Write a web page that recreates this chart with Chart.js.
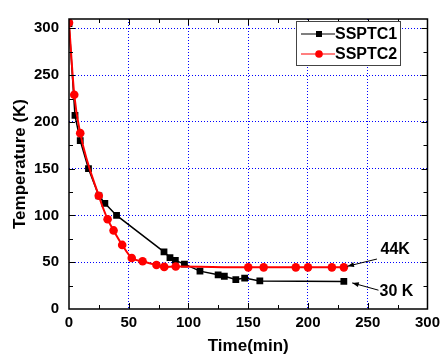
<!DOCTYPE html>
<html>
<head>
<meta charset="utf-8">
<script src="https://cdn.jsdelivr.net/npm/chart.js@4"></script>
<style>
  html, body { margin: 0; padding: 0; background: #fff; }
  #wrap { width: 445px; height: 363px; }
</style>
</head>
<body>
<div id="wrap"><canvas id="chart1" width="445" height="363"></canvas></div>
<script>
let timeSSPTC1 = [0, 5, 9.4, 16.3, 25, 30, 39.8, 79.5, 84.5, 89, 96.6, 109.6, 124.8, 130, 139.6, 147, 159.7, 230]
let tempSSPTC1 = [305, 207, 180, 150, 121, 113, 100, 61, 55, 52, 48, 40.5, 36.5, 35, 31.5, 33, 30, 29.5]
let timeSSPTC2 = [0, 4.4, 9.4, 24.9, 32.3, 37.3, 44.5, 52.5, 61.6, 73.2, 79.7, 89.3, 150, 162.9, 189.8, 200, 220, 230]
let tempSSPTC2 = [306, 229, 188, 121, 96, 84, 68.5, 54.5, 51, 47, 45, 45.5, 44.5, 44.5, 44.5, 44.5, 44.5, 44.5]
let xTicks = [0, 50, 100, 150, 200, 250, 300]
let yTicks = [0, 50, 100, 150, 200, 250, 300]
let notes = [
    {text: "44K", at: [273, 63], from: [257.7, 53.4], to: [233, 45.7]},
    {text: "30 K", at: [274, 18.5], from: [259, 20.1], to: [237, 27.9]}
]

function pairs(xs, ys) {
    return xs.map((x, i) => ({x: x, y: ys[i]}))
}

const boldFont = (size) => ({family: "'Liberation Sans', Arial, sans-serif", size: size, weight: "bold"})

// frame, inward ticks, legend box and arrow notes
const decorations = {
    id: "decorations",
    afterDatasetsDraw(chart) {
        const ctx = chart.ctx
        const a = chart.chartArea
        const sx = chart.scales.x
        const sy = chart.scales.y
        ctx.save()
        ctx.strokeStyle = "#000"
        ctx.lineWidth = 1
        ctx.beginPath()
        for (let v = 25; v < 300; v += 25) {
            const len = v % 50 == 0 ? 6 : 4
            const px = Math.round(sx.getPixelForValue(v)) + 0.5
            ctx.moveTo(px, a.bottom); ctx.lineTo(px, a.bottom - len)
            ctx.moveTo(px, a.top); ctx.lineTo(px, a.top + len)
        }
        for (let v = 25; v <= 300; v += 25) {
            const len = v % 50 == 0 ? 6 : 4
            const py = Math.round(sy.getPixelForValue(v)) + 0.5
            ctx.moveTo(a.left, py); ctx.lineTo(a.left + len, py)
            ctx.moveTo(a.right, py); ctx.lineTo(a.right - len, py)
        }
        ctx.stroke()
        ctx.lineWidth = 1.5
        ctx.strokeRect(a.left, a.top, a.right - a.left, a.bottom - a.top)

        // notes with arrows
        ctx.font = "bold 16px 'Liberation Sans', Arial, sans-serif"
        ctx.fillStyle = "#000"
        ctx.textAlign = "center"
        ctx.textBaseline = "middle"
        notes.forEach((n) => {
            ctx.fillText(n.text, sx.getPixelForValue(n.at[0]), sy.getPixelForValue(n.at[1]))
            const x1 = sx.getPixelForValue(n.from[0]), y1 = sy.getPixelForValue(n.from[1])
            const x2 = sx.getPixelForValue(n.to[0]), y2 = sy.getPixelForValue(n.to[1])
            ctx.lineWidth = 1
            ctx.beginPath(); ctx.moveTo(x1, y1); ctx.lineTo(x2, y2); ctx.stroke()
            const ang = Math.atan2(y2 - y1, x2 - x1)
            ctx.beginPath()
            ctx.moveTo(x2, y2)
            ctx.lineTo(x2 - 7 * Math.cos(ang - 0.35), y2 - 7 * Math.sin(ang - 0.35))
            ctx.lineTo(x2 - 7 * Math.cos(ang + 0.35), y2 - 7 * Math.sin(ang + 0.35))
            ctx.closePath(); ctx.fill()
        })

        // legend
        const lx = 296, ly = 21, lw = 104, lh = 44
        ctx.fillStyle = "#fff"
        ctx.fillRect(lx, ly, lw, lh)
        ctx.strokeStyle = "#444"
        ctx.lineWidth = 1
        ctx.strokeRect(lx + 0.5, ly + 0.5, lw, lh)
        chart.data.datasets.forEach((ds, i) => {
            const yy = ly + 13 + i * 20
            ctx.strokeStyle = ds.borderColor
            ctx.lineWidth = 1.2
            ctx.beginPath(); ctx.moveTo(lx + 5, yy); ctx.lineTo(lx + 39, yy); ctx.stroke()
            ctx.fillStyle = ds.pointBackgroundColor
            if (ds.pointStyle == "rect") {
                ctx.fillRect(lx + 20, yy - 3, 6, 6)
            } else {
                ctx.beginPath(); ctx.arc(lx + 23, yy, 3.8, 0, Math.PI * 2); ctx.fill()
            }
            ctx.fillStyle = "#000"
            ctx.textAlign = "left"
            ctx.font = "bold 16px 'Liberation Sans', Arial, sans-serif"
            ctx.fillText(ds.label, lx + 39, yy + 1)
        })
        ctx.restore()
    }
}

const ctx1 = document.getElementById("chart1").getContext("2d")
new Chart(ctx1, {
    type: "line",
    data: {
        datasets: [{
            label: "SSPTC1",
            data: pairs(timeSSPTC1, tempSSPTC1),
            borderColor: "#000",
            backgroundColor: "#000",
            pointBackgroundColor: "#000",
            pointBorderColor: "#000",
            pointBorderWidth: 0,
            pointStyle: "rect",
            pointRadius: 4.8,
            borderWidth: 1.5,
            lineTension: 0,
            order: 2
        },
        {
            label: "SSPTC2",
            data: pairs(timeSSPTC2, tempSSPTC2),
            borderColor: "#ff0000",
            backgroundColor: "#ff0000",
            pointBackgroundColor: "#ff0000",
            pointBorderColor: "#ff0000",
            pointBorderWidth: 0,
            pointStyle: "circle",
            pointRadius: 4.3,
            borderWidth: 2,
            cubicInterpolationMode: "monotone",
            order: 1
        }]
    },
    options: {
        responsive: false,
        animation: false,
        layout: {padding: {top: 6, right: 14, left: 0, bottom: 0}},
        plugins: {legend: {display: false}, tooltip: {enabled: false}},
        scales: {
            x: {
                type: "linear",
                min: 0,
                max: 300,
                afterBuildTicks: (s) => { s.ticks = xTicks.map((v) => ({value: v})) },
                afterFit: (s) => { s.height = 54 },
                ticks: {font: boldFont(15), color: "#000", padding: 5, maxRotation: 0},
                grid: {
                    color: (c) => (c.tick && (c.tick.value == 0 || c.tick.value == 300)) ? "rgba(0,0,0,0)" : "#0000ff",
                    lineWidth: 1,
                    drawTicks: false
                },
                border: {display: false, dash: [1, 2]},
                title: {display: true, text: "Time(min)", font: boldFont(17), color: "#000", padding: {top: 0, bottom: 6}}
            },
            y: {
                min: 0,
                max: 310,
                afterBuildTicks: (s) => { s.ticks = yTicks.map((v) => ({value: v})) },
                afterFit: (s) => { s.width = 69 },
                ticks: {font: boldFont(15), color: "#000", padding: 10},
                grid: {
                    color: (c) => (c.tick && c.tick.value == 0) ? "rgba(0,0,0,0)" : "#0000ff",
                    lineWidth: 1,
                    drawTicks: false
                },
                border: {display: false, dash: [1, 2]},
                title: {display: true, text: "Temperature (K)", font: boldFont(17), color: "#000", padding: {top: 10, bottom: 0}}
            }
        }
    },
    plugins: [decorations]
});
</script>
</body>
</html>
